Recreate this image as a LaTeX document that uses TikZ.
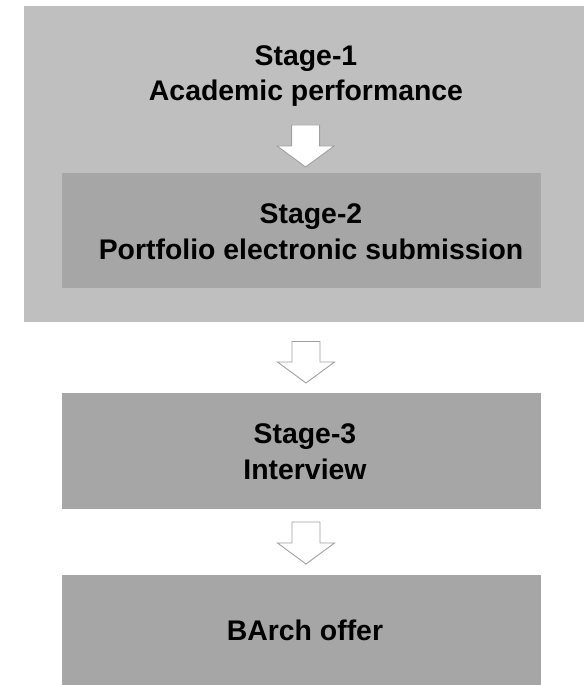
\documentclass[tikz,border=0pt]{standalone}
\usepackage{fontspec}
\setmainfont{Liberation Sans}
\usetikzlibrary{calc}
\definecolor{outergray}{HTML}{BFBFBF}
\definecolor{innergray}{HTML}{A6A6A6}
\definecolor{arrowline}{HTML}{A0A0A0}
\tikzset{
  box/.style={rectangle, draw=none, inner sep=0pt, anchor=north west},
  label/.style={align=center, font=\bfseries\fontsize{28.5}{36}\selectfont, text=black, inner sep=0pt},
  blockarrow/.style={draw=arrowline, fill=white, line width=0.9bp, line join=miter},
}
% #1 = top coordinate name, #2 = tip coordinate name
\newcommand\drawblockarrow[2]{%
  \draw[blockarrow] ($(#1)+(-14,0)$) -- ($(#1)+(14,0)$) -- ($(#2)+(14,-21)$)
    -- ($(#2)+(28.5,-21)$) -- (#2) -- ($(#2)+(-28.5,-21)$) -- ($(#2)+(-14,-21)$) -- cycle;}
\begin{document}
\begin{tikzpicture}[x=1bp,y=-1bp]
\useasboundingbox (0,0) rectangle (585,685);
\fill[white] (0,0) rectangle (585,685);
% outer stage-1 box
\node[box, fill=outergray, minimum width=560bp, minimum height=316bp] (outer) at (24,6) {};
\node[label] (t1) at (306,76) {Stage-1\\Academic performance};
% stage-2 box
\node[box, fill=innergray, minimum width=479bp, minimum height=115bp] (s2) at (62,173) {};
\node[label] (t2) at (311,232) {Stage-2\\Portfolio electronic submission};
% stage-3 box
\node[box, fill=innergray, minimum width=479bp, minimum height=116bp] (s3) at (62,393) {};
\node[label] (t3) at (305,452) {Stage-3\\Interview};
% BArch offer box
\node[box, fill=innergray, minimum width=479bp, minimum height=110bp] (s4) at (62,575) {};
\node[label] (t4) at (305,630) {BArch offer};
% arrows
\coordinate (a1top) at (305.6,125);
\coordinate (a1tip) at (305.6,167);
\coordinate (a2top) at (306,341.5);
\coordinate (a2tip) at (306,383);
\coordinate (a3top) at (306,522);
\coordinate (a3tip) at (306,564);
\drawblockarrow{a1top}{a1tip}
\drawblockarrow{a2top}{a2tip}
\drawblockarrow{a3top}{a3tip}
\end{tikzpicture}
\end{document}
